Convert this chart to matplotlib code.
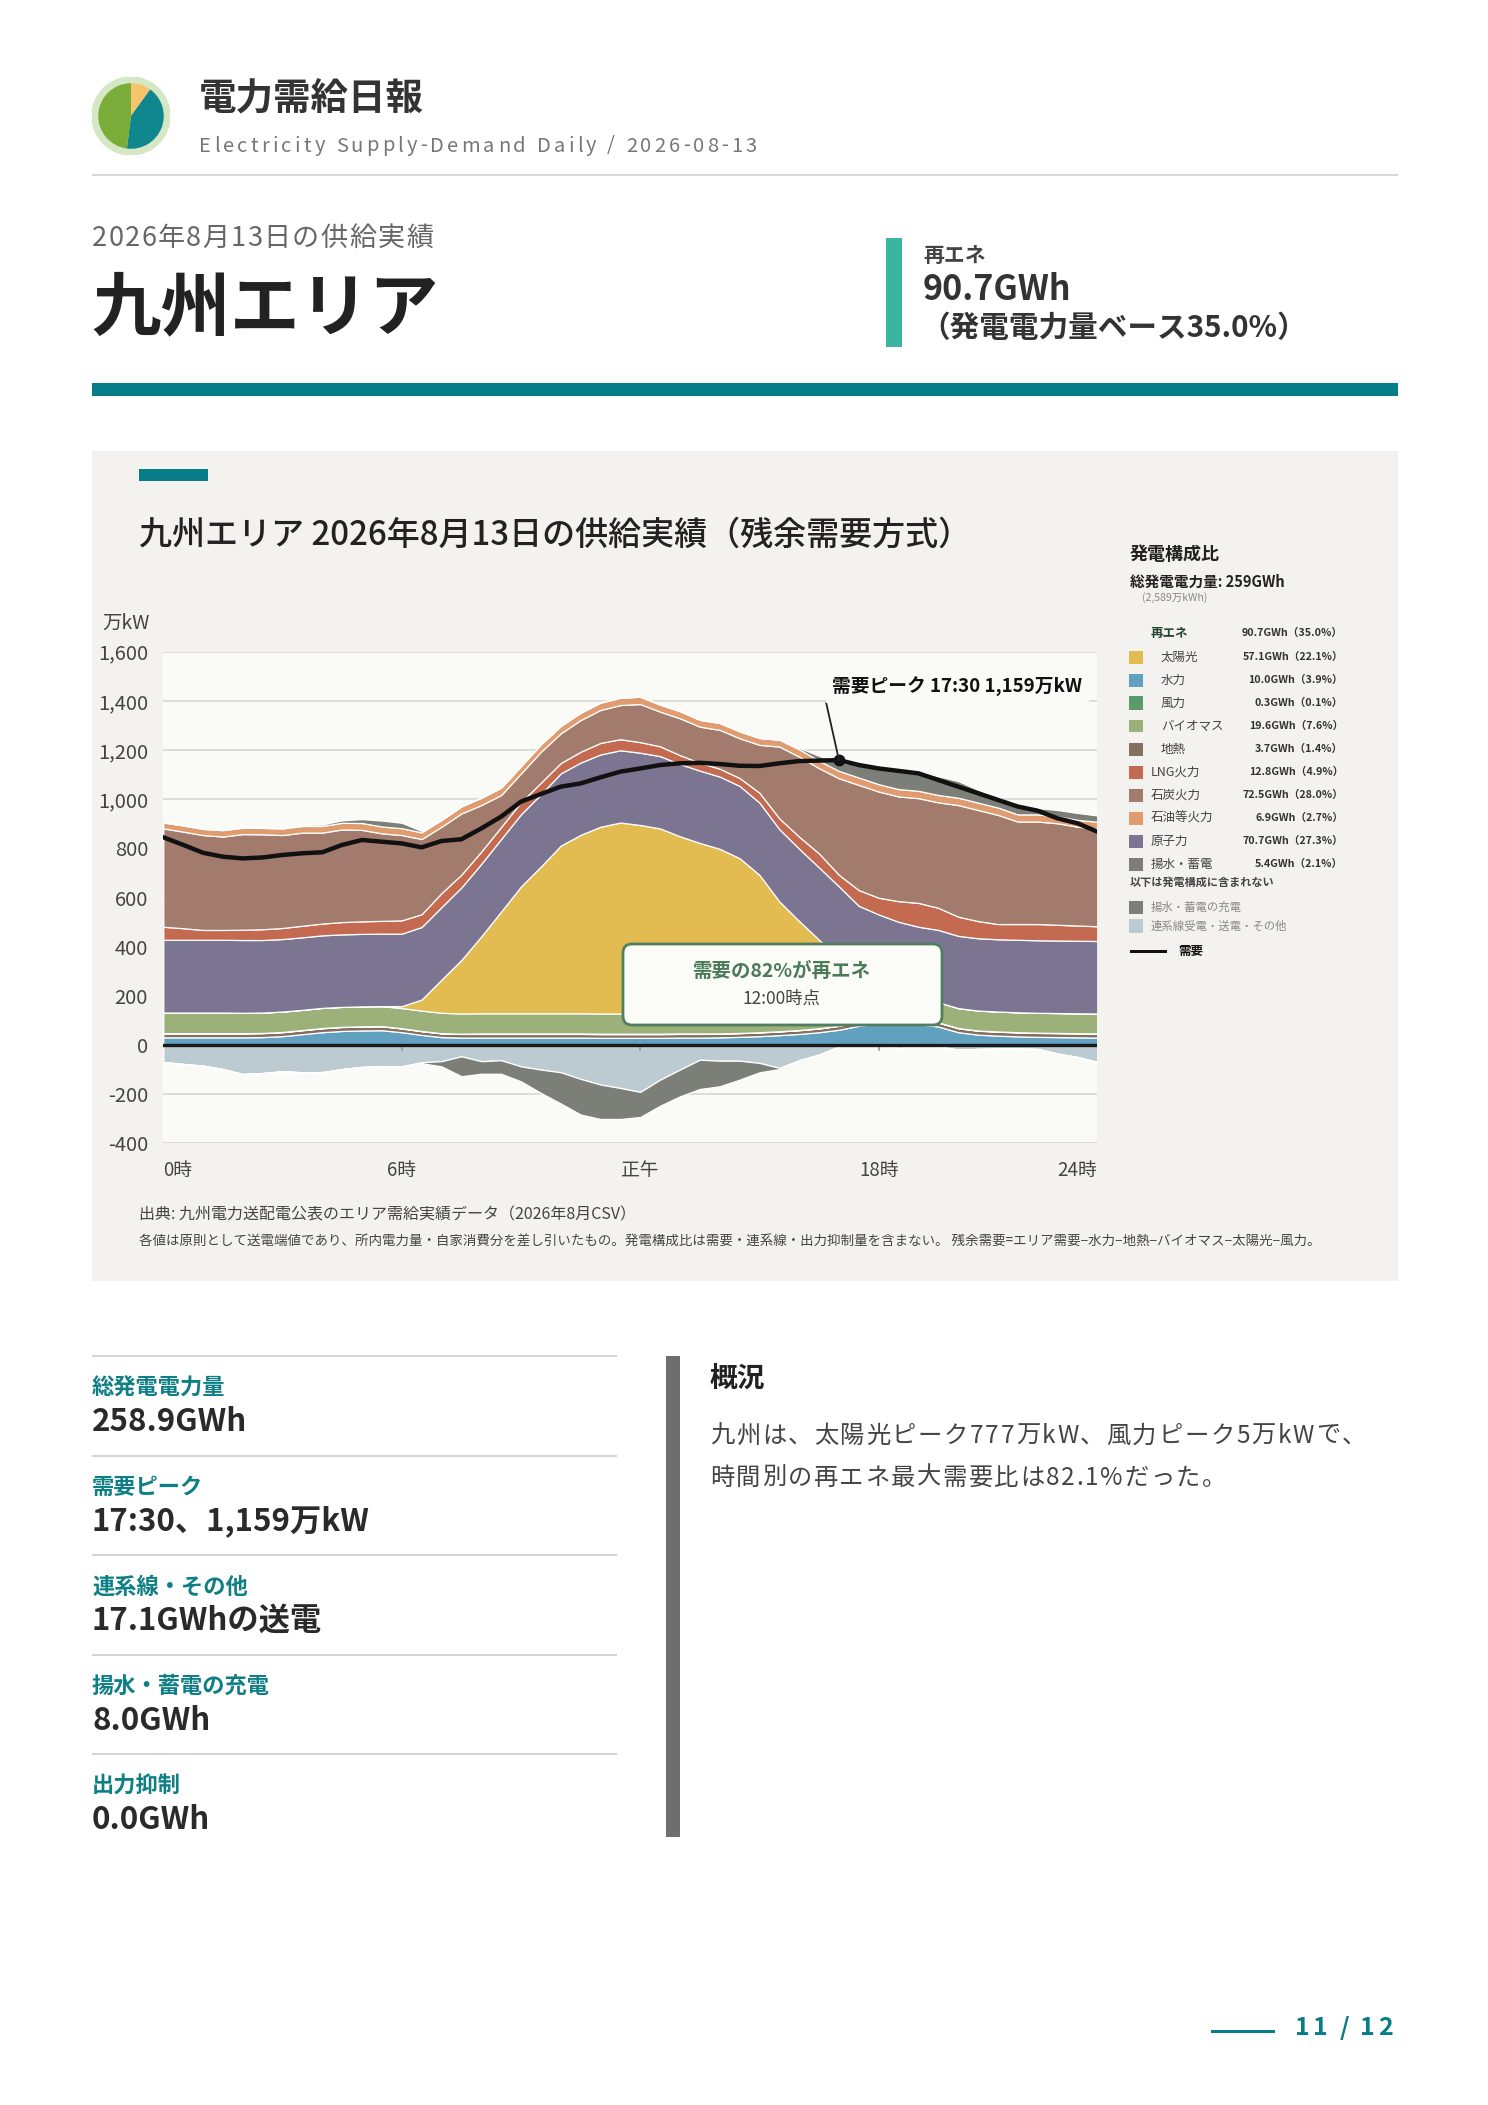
import matplotlib
matplotlib.use("Agg")
import matplotlib.pyplot as plt
import numpy as np
from matplotlib.patches import Rectangle, FancyBboxPatch, Circle

plt.rcParams["font.family"] = ["Noto Sans CJK JP", "DejaVu Sans"]

W, H = 1488, 2105

# ---- data (万kW, 30-minute steps from 0:00) ----
hours = np.arange(48) * 0.5
hydro = [31, 31, 31, 31, 31, 32, 36, 44, 52, 57, 59, 60, 52, 41, 32, 30, 30, 30, 30, 30, 30, 30, 29, 29,
         29, 29, 30, 30, 31, 33, 36, 40, 45, 52, 62, 78, 88, 90, 85, 75, 52, 42, 38, 35, 33, 32, 31, 30]
geothermal = [16, 16, 16, 16, 16, 16, 16, 16, 16, 16, 16, 16, 15, 15, 15, 15, 15, 15, 15, 15, 15, 15, 15, 15,
              15, 15, 15, 15, 15, 15, 15, 15, 15, 15, 16, 16, 16, 16, 16, 16, 16, 16, 16, 16, 16, 16, 16, 16]
wind = [1, 1, 1, 1, 1, 1, 1, 1, 1, 1, 1, 1, 1, 1, 1, 1, 2, 2, 2, 2, 2, 2, 2, 2,
        2, 2, 2, 2, 1, 1, 1, 1, 1, 1, 1, 1, 1, 1, 1, 1, 1, 1, 1, 1, 1, 1, 1, 1]
biomass = [84, 84, 84, 84, 83, 83, 83, 82, 82, 81, 81, 81, 82, 83, 83, 82, 82, 82, 82, 82, 82, 82, 82, 82,
           82, 82, 82, 82, 82, 82, 82, 82, 82, 82, 82, 82, 82, 82, 82, 82, 81, 81, 81, 81, 81, 81, 81, 81]
solar = [0, 0, 0, 0, 0, 0, 0, 0, 0, 0, 0, 0, 8, 45, 135, 218, 313, 414, 516, 597, 682, 726, 760, 777,
         767, 753, 720, 693, 669, 629, 558, 446, 361, 278, 190, 95, 50, 18, 3, 0, 0, 0, 0, 0, 0, 0, 0, 0]
nuclear = [296, 296, 296, 296, 296, 295, 295, 295, 295, 295, 295, 295, 295, 295, 295, 295, 295, 295, 294, 294,
           294, 294, 294, 294, 294, 294, 294, 294, 294, 294, 294, 294, 294, 294, 294, 294, 294, 294, 294, 294,
           294, 294, 294, 295, 295, 295, 295, 295]
lng = [53, 47, 40, 40, 42, 44, 45, 47, 48, 50, 51, 52, 54, 52, 57, 52, 50, 49, 49, 47, 42, 44, 47, 45,
       43, 40, 36, 32, 32, 32, 40, 44, 49, 57, 47, 64, 68, 84, 97, 90, 78, 70, 62, 64, 66, 64, 62, 60]
coal = [400, 393, 386, 380, 389, 386, 378, 379, 370, 377, 372, 356, 347, 306, 270, 249, 189, 130, 117, 126,
        121, 129, 134, 139, 155, 141, 150, 147, 158, 162, 195, 292, 326, 347, 393, 428, 432, 426, 426, 429,
        454, 452, 444, 417, 417, 413, 402, 398]
oil = [24, 25, 25, 26, 26, 26, 27, 27, 27, 27, 28, 28, 28, 27, 28, 29, 30, 30, 30, 30, 30, 30, 30, 30,
       30, 29, 29, 28, 28, 28, 28, 28, 30, 30, 30, 30, 30, 30, 30, 30, 30, 30, 30, 29, 29, 28, 28, 27]
pumped_gen = [5, 3, 2, 2, 4, 4, 4, 5, 6, 10, 16, 24, 22, 6, 0, 0, 0, 0, 0, 0, 0, 0, 0, 0,
              0, 0, 0, 0, 0, 0, 0, 0, 6, 20, 35, 52, 70, 78, 80, 76, 68, 52, 42, 34, 26, 26, 28, 26]
interconnect = [-69, -77, -84, -98, -118, -114, -107, -111, -110, -98, -89, -87, -87, -70, -66, -46, -66, -62,
                -87, -100, -111, -138, -161, -175, -191, -141, -100, -60, -64, -64, -73, -93, -62, -39, -6, 10,
                0, -12, -5, -5, -19, -16, -15, -15, -16, -35, -49, -69]
pumped_charge = [0, 0, 0, 0, 0, 0, 0, 0, 0, 0, 0, 0, 0, 4, 21, 81, 51, 55, 61, 95, 127, 145, 140, 126,
                 102, 106, 109, 119, 104, 77, 38, 5, 0, 0, 0, 0, 0, 0, 0, 0, 0, 0, 0, 0, 0, 0, 0, 0]
demand = [845, 814, 782, 766, 759, 763, 773, 780, 784, 814, 834, 827, 820, 804, 830, 837, 881, 929, 990, 1021,
          1051, 1064, 1089, 1112, 1125, 1139, 1146, 1148, 1143, 1136, 1135, 1146, 1155, 1157, 1159, 1139, 1125,
          1115, 1105, 1078, 1051, 1024, 997, 970, 953, 922, 902, 868]

x_ticks = [0, 6, 12, 18, 23.5]
x_ticklabels = ["0時", "6時", "正午", "18時", "24時"]

mix_labels = ["太陽光", "水力", "風力", "バイオマス", "地熱", "LNG火力", "石炭火力", "石油等火力", "原子力", "揚水・蓄電"]
mix_gwh = [57.1, 10.0, 0.3, 19.6, 3.7, 12.8, 72.5, 6.9, 70.7, 5.4]
mix_pct = [22.1, 3.9, 0.1, 7.6, 1.4, 4.9, 28.0, 2.7, 27.3, 2.1]
renew_gwh, renew_pct = 90.7, 35.0

stat_labels = ["総発電電力量", "需要ピーク", "連系線・その他", "揚水・蓄電の充電", "出力抑制"]
stat_values = ["258.9GWh", "17:30、1,159万kW", "17.1GWhの送電", "8.0GWh", "0.0GWh"]

logo_shares = [0.10, 0.42, 0.48]

# ---- colours ----
C = {
    "hydro": "#62a0c0", "geo": "#857060", "wind": "#5c9a6c", "bio": "#9cb07a", "solar": "#e2bc50",
    "nuclear": "#7b7592", "lng": "#c46a50", "coal": "#a27b6d", "oil": "#e09b6e", "pumped": "#7c7f77",
    "ic": "#bccbd1",
}
TEAL = "#077d87"

fig = plt.figure(figsize=(W / 100, H / 100), dpi=100)
fig.patch.set_facecolor("white")


def fx(x):
    return x / W


def fy(y):
    return 1 - y / H


def txt(x, y, s, size, color="#333", weight="normal", ha="left", va="center", z=30, **kw):
    return fig.text(fx(x), fy(y), s, fontsize=size, color=color, fontweight=weight,
                    ha=ha, va=va, zorder=z, **kw)


def rect(x0, y0, x1, y1, color, z=1):
    fig.add_artist(Rectangle((fx(x0), fy(y1)), fx(x1) - fx(x0), fy(y0) - fy(y1),
                             transform=fig.transFigure, facecolor=color, edgecolor="none", zorder=z))


def spaced_txt(x, y, s, size, color, target_w, weight="normal", ha="left"):
    r = fig.canvas.get_renderer()

    def adv(t):
        a = fig.text(0, 0, t + "|", fontsize=size, fontweight=weight)
        b = fig.text(0, 0, "|", fontsize=size, fontweight=weight)
        w = a.get_window_extent(r).width - b.get_window_extent(r).width
        a.remove()
        b.remove()
        return w

    offs = [adv(s[:i]) for i in range(len(s))]
    natural = adv(s)
    sp = (target_w - natural) / (len(s) - 1)
    x0 = x - target_w if ha == "right" else x
    for i, ch in enumerate(s):
        if ch != " ":
            txt(x0 + offs[i] + sp * i, y, ch, size, color, weight)


# ---- header ----
lax = fig.add_axes([fx(92), fy(155), 78 / W, 78 / H])
lax.set_xlim(-1, 1)
lax.set_ylim(-1, 1)
lax.set_aspect("equal")
lax.axis("off")
lax.add_patch(Circle((0, 0), 1.0, color="#d5e7c4"))
lax.pie(logo_shares, colors=["#f7c46c", "#10878d", "#7aac3a"], startangle=90, counterclock=False,
        radius=0.84, wedgeprops=dict(linewidth=0))
lax.set_xlim(-1, 1)
lax.set_ylim(-1, 1)

txt(199, 98, "電力需給日報", 27, "#333", "bold")
spaced_txt(199, 146, "Electricity Supply-Demand Daily / 2026-08-13", 14.5, "#777", 558)
rect(92, 174, 1398, 176, "#d8d8d8")

spaced_txt(92, 238, "2026年8月13日の供給実績", 19.5, "#666", 341)
txt(92, 309, "九州エリア", 50, "#222", "bold")
rect(886, 238, 902, 347, "#3bb5a0")
txt(923, 255, "再エネ", 15, "#444", "bold")
txt(923, 289, f"{renew_gwh}GWh", 24.5, "#333", "bold")
txt(920, 328, f"（発電電力量ベース{renew_pct}%）", 21.3, "#333", "bold")
rect(92, 383, 1398, 396, TEAL)

# ---- chart panel ----
rect(92, 451, 1398, 1281, "#f3f2ee", z=-5)
rect(139, 469, 208, 481, TEAL)
txt(139, 535, "九州エリア 2026年8月13日の供給実績（残余需要方式）", 23.8, "#222", "medium")
txt(150, 623, "万kW", 14, "#444", ha="right")

ax = fig.add_axes([fx(163.3), fy(1143.3), (1097.3 - 163.3) / W, (1143.3 - 651.7) / H])
ax.set_facecolor("#fafaf7")
for s in ax.spines.values():
    s.set_visible(False)
ax.set_xlim(0, 23.5)
ax.set_ylim(-400, 1600)
yt = list(range(-400, 1601, 200))
ax.set_yticks(yt)
ax.set_yticklabels([f"{v:,}" for v in yt])
ax.set_xticks(x_ticks)
ax.set_xticklabels(x_ticklabels)
ax.tick_params(axis="y", length=0, labelsize=14.5, labelcolor="#444", pad=11)
ax.tick_params(axis="x", length=0, labelsize=13.5, labelcolor="#444", pad=12)
xl = ax.get_xticklabels()
xl[0].set_ha("left")
xl[-1].set_ha("right")
ax.grid(axis="y", color="#dcdcda", lw=1.4)
ax.set_axisbelow(True)

ic = np.array(interconnect)
ic_pos = np.clip(ic, 0, None)
ic_neg = np.clip(ic, None, 0)
pos = [hydro, geothermal, wind, biomass, solar, nuclear, lng, coal, oil, pumped_gen]
pos_colors = [C["hydro"], C["geo"], C["wind"], C["bio"], C["solar"], C["nuclear"], C["lng"], C["coal"],
              C["oil"], C["pumped"]]
ax.stackplot(hours, *pos, colors=pos_colors, edgecolor="white", linewidth=0.9, zorder=2)
top = np.sum(np.array(pos), axis=0)
ax.fill_between(hours, top, top + ic_pos, color=C["ic"], lw=0, zorder=2)
ax.stackplot(hours, ic_neg, -np.array(pumped_charge), colors=[C["ic"], C["pumped"]],
             edgecolor="white", linewidth=0.9, zorder=2)

for h in (6, 12, 18):
    ax.plot([h, h], [0, -22], color="#999", lw=1.2, zorder=4)
ax.axhline(0, color="#1a1a1a", lw=2.4, zorder=5)
ax.plot(hours, demand, color="#111", lw=3.2, zorder=6, solid_joinstyle="round")
pk = int(np.argmax(demand))
ax.plot(hours[pk], demand[pk], "o", color="#111", ms=7.5, zorder=7)
ax.plot([16.68, hours[pk]], [1391, demand[pk]], color="#222", lw=1.3, zorder=7)
ax.text(19.98, 1457, "需要ピーク 17:30 1,159万kW", ha="center", va="center", fontsize=13.5,
        fontweight="bold", color="#111", zorder=8,
        bbox=dict(boxstyle="square,pad=0.35", fc="#fafaf7", ec="none"))

# callout box
fig.add_artist(FancyBboxPatch((fx(623), fy(1025)), fx(942) - fx(623), fy(944) - fy(1025),
                              boxstyle="round,pad=0,rounding_size=0.006", mutation_aspect=W / H,
                              transform=fig.transFigure, facecolor="#fbfbf8", edgecolor="#4f7f60",
                              lw=2, zorder=20))
txt(782, 971, "需要の82%が再エネ", 14, "#4a7a58", "bold", ha="center")
txt(782, 999, "12:00時点", 12.5, "#444", ha="center")

# legend
txt(1130, 555, "発電構成比", 13, "#222", "bold")
txt(1130, 582, "総発電電力量: 259GWh", 10.5, "#222", "bold")
txt(1142, 598, "(2,589万kWh)", 7.6, "#888")
txt(1151, 633, "再エネ", 9, "#23452f", "bold")
txt(1343, 633, f"{renew_gwh:.1f}GWh（{renew_pct:.1f}%）", 7.7, "#333", "bold", ha="right")
sw_colors = [C["solar"], C["hydro"], C["wind"], C["bio"], C["geo"], C["lng"], C["coal"], C["oil"],
             C["nuclear"], C["pumped"]]
for i, (lab, g, p, col) in enumerate(zip(mix_labels, mix_gwh, mix_pct, sw_colors)):
    yy = 657 + i * 23
    rect(1129, yy - 6.5, 1143, yy + 6.5, col, z=3)
    lx = 1161 if i < 5 else 1151
    txt(lx, yy, lab, 9, "#444")
    txt(1343, yy, f"{g:.1f}GWh（{p:.1f}%）", 7.7, "#333", "bold", ha="right")
txt(1130, 882, "以下は発電構成に含まれない", 8, "#444", "bold")
rect(1129, 900.5, 1143, 913.5, C["pumped"], z=3)
txt(1151, 907, "揚水・蓄電の充電", 8.2, "#888")
rect(1129, 919.5, 1143, 932.5, C["ic"], z=3)
txt(1151, 926, "連系線受電・送電・その他", 8.2, "#888")
rect(1130, 949.5, 1167, 952.5, "#111", z=3)
txt(1178, 951, "需要", 9, "#111", "bold")

# source notes
txt(139, 1215, "出典: 九州電力送配電公表のエリア需給実績データ（2026年8月CSV）", 11.5, "#444")
txt(139, 1242, "各値は原則として送電端値であり、所内電力量・自家消費分を差し引いたもの。"
    "発電構成比は需要・連系線・出力抑制量を含まない。 残余需要=エリア需要−水力−地熱−バイオマス−太陽光−風力。",
    9.7, "#444")

# ---- bottom stats ----
for i, (lab, val) in enumerate(zip(stat_labels, stat_values)):
    y0 = 1356 + i * 99.5
    rect(92, y0 - 1, 617, y0 + 1, "#d4d4d4")
    txt(92, y0 + 32, lab, 16, "#0f7f86", "bold")
    txt(92, y0 + 66, val, 22.5, "#2a2a2a", "bold")

rect(666, 1356, 680, 1837, "#6e6e72")
txt(710, 1379, "概況", 20, "#222", "bold")
spaced_txt(710, 1436, "九州は、太陽光ピーク777万kW、風力ピーク5万kWで、", 17.5, "#444", 656)
spaced_txt(710, 1478, "時間別の再エネ最大需要比は82.1%だった。", 17.5, "#444", 516)

# ---- page number ----
rect(1211, 2029.5, 1275, 2032.5, TEAL)
spaced_txt(1393, 2028, "11 / 12", 18, TEAL, 98, weight="bold", ha="right")

fig.savefig("out.png", dpi=100, facecolor="white")
